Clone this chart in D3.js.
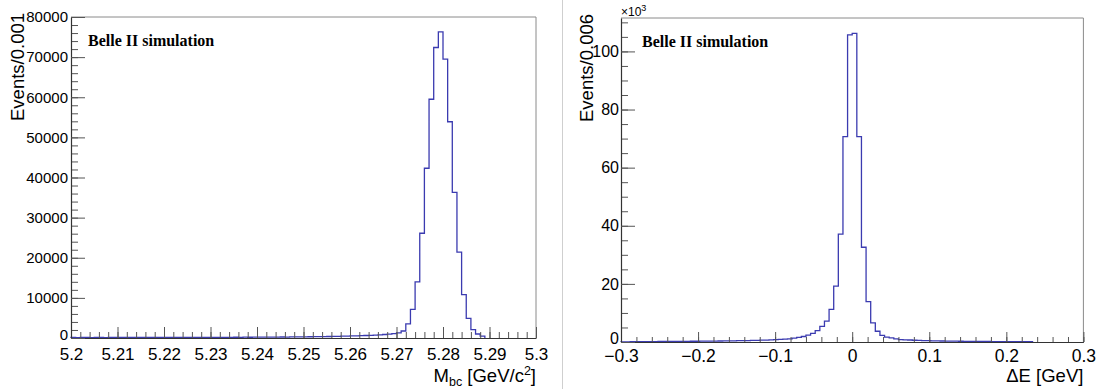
<!DOCTYPE html>
<html>
<head>
<meta charset="utf-8">
<script src="https://cdn.jsdelivr.net/npm/d3@7"></script>
<style>
  html, body { margin: 0; padding: 0; background: #fff; }
  svg { display: block; }
  text { font-family: "Liberation Sans", Arial, Helvetica, sans-serif; fill: #000; }
  .belle { font-family: "Liberation Serif", "Times New Roman", serif; font-weight: bold; }
</style>
</head>
<body>
<svg id="chart" width="1106" height="389"></svg>
<script>
// ---------------- data ----------------
// Left: M_bc histogram, 100 bins of 0.001 from 5.2 to 5.3 (Events/0.001)
const mbcRange = [5.2, 5.3];
const mbcCounts = [
  120,110,130,120,110,120,130,110,120,130,
  120,130,120,140,130,120,140,130,140,130,
  140,150,140,150,140,160,150,160,150,170,
  160,170,180,170,180,190,180,200,190,200,
  210,220,210,230,240,250,240,260,280,290,
  300,310,330,340,360,380,400,420,450,480,
  510,540,580,620,670,720,790,870,960,1080,
  1300,1750,3500,7150,14000,26100,42300,59500,72400,76300,
  69500,53900,36300,21400,10800,4900,2100,1000,450,0,
  0,0,0,0,0,0,0,0,0,0
];
const mbcXTicks = [5.2,5.21,5.22,5.23,5.24,5.25,5.26,5.27,5.28,5.29,5.3];
const mbcXTickLabels = ["5.2","5.21","5.22","5.23","5.24","5.25","5.26","5.27","5.28","5.29","5.3"];
const mbcYMax = 80000;
const mbcYTicks = [0,10000,20000,30000,40000,50000,60000,70000,80000];

// Right: Delta E histogram, 100 bins of 0.006 from -0.3 to 0.3 (Events/0.006, x10^3)
const deRange = [-0.3, 0.3];
const deCounts = [
  60,70,80,90,100,140,150,160,170,180,
  190,200,210,220,230,250,260,280,300,310,
  330,350,370,390,410,440,470,500,540,580,
  620,670,730,800,880,970,1080,1300,1600,1900,
  2400,3000,3900,5400,7200,11200,19200,37100,70700,105700,
  106200,70700,32600,13900,6600,3700,2300,1700,1400,1050,
  850,760,680,610,560,500,450,410,380,350,
  320,300,280,260,240,220,200,190,180,170,
  160,150,140,130,120,110,100,90,80,0,
  0,0,0,0,0,0,0,0,0,0
];
const deXTicks = [-0.3,-0.2,-0.1,0,0.1,0.2,0.3];
const deXTickLabels = ["\u22120.3","\u22120.2","\u22120.1","0","0.1","0.2","0.3"];
const deYMax = 111.5; // in units of 10^3
const deYTicks = [0,20,40,60,80,100];

// ---------------- drawing ----------------
const svg = d3.select("#chart");
const histColor = "#3b3bb0";

// separator between the two pictures
svg.append("line").attr("x1", 562.5).attr("x2", 562.5).attr("y1", 0).attr("y2", 389)
  .attr("stroke", "#cfcfcf").attr("stroke-width", 1);

function panel(cfg) {
  const g = svg.append("g");
  const x = d3.scaleLinear().domain(cfg.xDomain).range([cfg.left, cfg.right]);
  const y = d3.scaleLinear().domain([0, cfg.yMax]).range([cfg.bottom, cfg.top]);

  // frame (top & right)
  g.append("path")
    .attr("d", `M${cfg.left},${cfg.top}H${cfg.right}V${cfg.bottom}`)
    .attr("fill", "none").attr("stroke", "#8a8a8a").attr("stroke-width", 1);

  // histogram
  const n = cfg.counts.length;
  const w = (cfg.xDomain[1] - cfg.xDomain[0]) / n;
  let last = n - 1;
  while (last > 0 && cfg.counts[last] === 0) last--;
  const pts = [[x(cfg.xDomain[0]), y(0)]];
  for (let i = 0; i <= last; i++) {
    const e0 = cfg.xDomain[0] + i * w, e1 = e0 + w;
    pts.push([x(e0), y(cfg.counts[i] * cfg.scale)]);
    pts.push([x(e1), y(cfg.counts[i] * cfg.scale)]);
  }
  pts.push([x(cfg.xDomain[0] + (last + 1) * w), y(0)]);
  g.append("path").attr("d", d3.line()(pts))
    .attr("fill", "none").attr("stroke", histColor).attr("stroke-width", 1.3);

  // x axis
  const minorX = d3.range(cfg.xDomain[0], cfg.xDomain[1] + 1e-9, cfg.xMinor);
  g.append("g").attr("transform", `translate(0,${cfg.bottom})`)
    .call(d3.axisBottom(x).tickValues(minorX).tickFormat("").tickSize(-cfg.xMinorLen).tickSizeOuter(0))
    .call(s => s.select(".domain").remove())
    .selectAll("line").attr("stroke", "#555");
  const ax = g.append("g").attr("transform", `translate(0,${cfg.bottom})`)
    .call(d3.axisBottom(x).tickValues(cfg.xTicks)
      .tickFormat((d, i) => cfg.xTickLabels[i]).tickSize(-cfg.xMajorLen).tickSizeOuter(0));
  ax.select(".domain").attr("stroke", "#333").attr("stroke-width", 1.2);
  ax.selectAll("line").attr("stroke", "#555");
  ax.selectAll("text").attr("y", cfg.xLabelY).attr("dy", 0)
    .style("font-size", cfg.xFont + "px")
    .style("font-family", '"Liberation Sans", Arial, sans-serif');

  // y axis
  const minorY = d3.range(0, cfg.yMax + 1e-9, cfg.yMinor);
  g.append("g").attr("transform", `translate(${cfg.left},0)`)
    .call(d3.axisLeft(y).tickValues(minorY).tickFormat("").tickSize(-cfg.yMinorLen).tickSizeOuter(0))
    .call(s => s.select(".domain").remove())
    .selectAll("line").attr("stroke", "#555");
  const ay = g.append("g").attr("transform", `translate(${cfg.left},0)`)
    .call(d3.axisLeft(y).tickValues(cfg.yTicks).tickFormat(d3.format("d"))
      .tickSize(-cfg.yMajorLen).tickSizeOuter(0).tickPadding(cfg.yPad));
  ay.select(".domain").attr("stroke", "#333").attr("stroke-width", 1.2);
  ay.selectAll("line").attr("stroke", "#555");
  ay.selectAll("text").style("font-size", cfg.yFont + "px")
    .style("font-family", '"Liberation Sans", Arial, sans-serif');
  // lowest label sits a little higher, as in the original
  ay.selectAll("text").filter(d => d === 0).attr("dy", "0.1em");

  // titles
  g.append("text").attr("transform", `translate(${cfg.yTitleX},${cfg.yTitleTop}) rotate(-90)`)
    .attr("text-anchor", "end").style("font-size", cfg.titleFont + "px").text(cfg.yTitle);

  const xt = g.append("text").attr("x", cfg.right).attr("y", 382)
    .attr("text-anchor", "end").style("font-size", cfg.titleFont + "px");
  cfg.xTitle(xt);

  g.append("text").attr("class", "belle").attr("x", cfg.belleX).attr("y", cfg.belleY)
    .style("font-size", "16px").text("Belle II simulation");
  return g;
}

panel({
  left: 71, right: 536, top: 17, bottom: 338,
  xDomain: mbcRange, yMax: mbcYMax, counts: mbcCounts, scale: 1,
  xTicks: mbcXTicks, xTickLabels: mbcXTickLabels, xMinor: 0.002,
  xMajorLen: 11, xMinorLen: 6, xLabelY: 22, xFont: 17,
  yTicks: mbcYTicks, yMinor: 2000, yMajorLen: 14, yMinorLen: 7, yPad: 3, yFont: 15,
  yTitle: "Events/0.001", yTitleX: 24, yTitleTop: 13, titleFont: 18.5,
  xTitle: t => {
    t.append("tspan").text("M");
    t.append("tspan").attr("dy", 3.5).style("font-size", "12.5px").text("bc");
    t.append("tspan").attr("dy", -3.5).text(" [GeV/c");
    t.append("tspan").attr("dy", -7).style("font-size", "12.5px").text("2");
    t.append("tspan").attr("dy", 7).text("]");
  },
  belleX: 88, belleY: 46
});

panel({
  left: 621, right: 1083.4, top: 18, bottom: 342,
  xDomain: deRange, yMax: deYMax, counts: deCounts, scale: 0.001,
  xTicks: deXTicks, xTickLabels: deXTickLabels, xMinor: 0.02,
  xMajorLen: 10, xMinorLen: 5, xLabelY: 20, xFont: 17.5,
  yTicks: deYTicks, yMinor: 5, yMajorLen: 14, yMinorLen: 7, yPad: 2, yFont: 16,
  yTitle: "Events/0.006", yTitleX: 593, yTitleTop: 14, titleFont: 18.5,
  xTitle: t => t.text("\u0394E [GeV]"),
  belleX: 642, belleY: 47
});

// x10^3 multiplier
const mult = svg.append("text").attr("x", 621).attr("y", 16).style("font-size", "12px");
mult.append("tspan").text("\u00d710");
mult.append("tspan").attr("dy", -5).style("font-size", "9px").text("3");
</script>
</body>
</html>
